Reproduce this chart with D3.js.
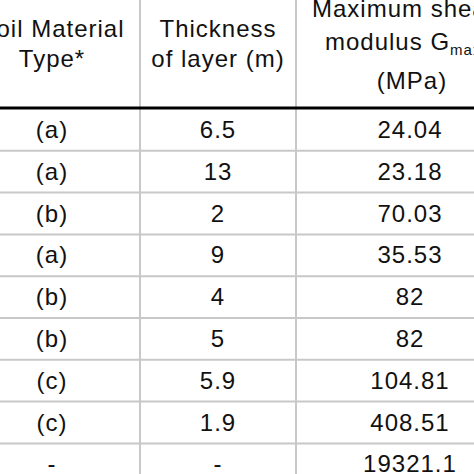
<!DOCTYPE html>
<html><head><meta charset="utf-8">
<script src="https://cdn.jsdelivr.net/npm/d3@7"></script>
<style>body{margin:0;background:#fff}text{font-family:"Liberation Sans",Arial,sans-serif;fill:#111;letter-spacing:1px}</style>
</head><body>
<svg id="chart" width="474" height="474"></svg>
<script>
const materialTypes = ['(a)', '(a)', '(b)', '(a)', '(b)', '(b)', '(c)', '(c)', '-'];
const thickness = ['6.5', '13', '2', '9', '4', '5', '5.9', '1.9', '-'];
const gMax = ['24.04', '23.18', '70.03', '35.53', '82', '82', '104.81', '408.51', '19321.1'];

const svg = d3.select('#chart');
const colCenters = [52, 218, 410];
const rows = d3.range(materialTypes.length);
const fs = '24px';

const y = d3.scaleBand()
    .domain(rows)
    .range([109, 109 + 41.8 * rows.length]);

// column separators
[140, 296].forEach(x => {
  svg.append('line')
    .attr('x1', x).attr('x2', x).attr('y1', 0).attr('y2', 474)
    .attr('stroke', '#c8c8c8').attr('stroke-width', 2);
});

// row separators
svg.selectAll('.rowline')
  .data(rows.slice(1))
  .enter().append('line')
    .attr('x1', 0).attr('x2', 474)
    .attr('y1', d => y(d)).attr('y2', d => y(d))
    .attr('stroke', '#c8c8c8').attr('stroke-width', 2);

svg.append('line')
  .attr('x1', 0).attr('x2', 474).attr('y1', 108).attr('y2', 108)
  .attr('stroke', '#000').attr('stroke-width', 3);

// header
const header = [
  { x: colCenters[0], lines: [['Soil Material', 37], ['Type*', 67]] },
  { x: colCenters[1], lines: [['Thickness', 37], ['of layer (m)', 67]] }
];
header.forEach(h => h.lines.forEach(([t, yy]) => {
  svg.append('text').attr('x', h.x).attr('y', yy)
    .attr('text-anchor', 'middle').style('font-size', fs).text(t);
}));
svg.append('text').attr('x', 312).attr('y', 17).style('font-size', fs).text('Maximum shear');
const mod = svg.append('text').attr('x', 325).attr('y', 50).style('font-size', fs);
mod.append('tspan').text('modulus G');
mod.append('tspan').attr('dy', 5).style('font-size', '15px').text('max');
svg.append('text').attr('x', 412).attr('y', 89).attr('text-anchor', 'middle').style('font-size', fs).text('(MPa)');

// body
[materialTypes, thickness, gMax].forEach((col, ci) => {
  svg.selectAll('.c' + ci)
    .data(col)
    .enter().append('text')
      .attr('x', colCenters[ci])
      .attr('y', (d, i) => y(i) + y.bandwidth() / 2 + 8)
      .attr('text-anchor', 'middle')
      .style('font-size', fs)
      .text(d => d);
});
</script>
</body></html>
